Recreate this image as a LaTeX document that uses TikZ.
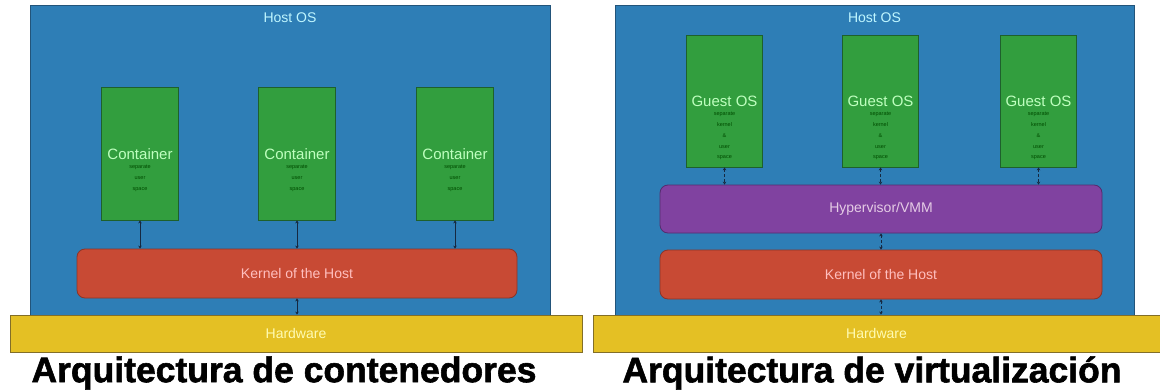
\documentclass[tikz,border=0pt]{standalone}
\usepackage{fontspec}
\setmainfont{Liberation Sans}
\newfontfamily\titlefont[BoldFeatures={FakeBold=1.6}]{Liberation Sans}
\usepackage{tikz}
\usetikzlibrary{arrows.meta, positioning, calc}

\definecolor{hostblue}{RGB}{46,126,182}
\definecolor{hostedge}{RGB}{34,84,122}
\definecolor{boxgreen}{RGB}{50,158,62}
\definecolor{greenedge}{RGB}{30,96,44}
\definecolor{kernred}{RGB}{200,74,52}
\definecolor{rededge}{RGB}{140,52,40}
\definecolor{hyppurple}{RGB}{128,66,160}
\definecolor{purpleedge}{RGB}{84,44,110}
\definecolor{hwyellow}{RGB}{228,192,36}
\definecolor{yellowedge}{RGB}{130,110,40}
\definecolor{linkdark}{RGB}{22,40,64}

\begin{document}
\begin{tikzpicture}[x=1pt, y=-1pt,
    hostos/.style={rectangle, draw=hostedge, fill=hostblue, line width=0.8pt, inner sep=0pt},
    hosttxt/.style={text=blue!15!cyan!25, font=\fontsize{14}{16}\selectfont},
    hwbar/.style={rectangle, draw=yellowedge, fill=hwyellow, line width=0.8pt, inner sep=0pt, minimum height=37},
    hwtxt/.style={text=yellow!30, font=\fontsize{14}{16}\selectfont},
    ctrbox/.style={rectangle, draw=greenedge, fill=boxgreen, line width=0.8pt, inner sep=0pt, minimum width=77, minimum height=133},
    ctrtxt/.style={text=green!25, font=\fontsize{15}{17}\selectfont, align=center, inner sep=0pt},
    subtxt/.style={text=green!30!black, font=\fontsize{5.5}{10.8}\selectfont, align=center, inner sep=0pt},
    layer/.style={rectangle, rounded corners=8pt, line width=0.8pt, inner sep=0pt, minimum width=442, minimum height=48},
    kernel/.style={layer, draw=rededge, fill=kernred, text=red!25!white},
    hyper/.style={layer, draw=purpleedge, fill=hyppurple, text=violet!20!white},
    link/.style={{Stealth[length=3pt,width=3.5pt]}-{Stealth[length=3pt,width=3.5pt]}, draw=linkdark, line width=1pt},
    title/.style={font=\titlefont\bfseries\fontsize{35.5}{40}\selectfont, text=black}
]
\useasboundingbox (0,0) rectangle (1160,391);

% ===== CONTAINERS LEFT =====
\node[hostos, minimum width=520, minimum height=310] (hostA) at (290,160) {};
\node[hosttxt, below=5pt of hostA.north] {Host OS};

% Containers
\foreach \i/\x in {1/140, 2/297, 3/455} {
    \node[ctrbox] (c\i) at (\x,153.5) {};
    \node[ctrtxt] (ct\i) at ([yshift=-0.5pt]c\i.center) {Container};
    \node[subtxt, below=5pt of ct\i] {separate\\user\\space};
}

% Kernel of the host
\node[kernel, minimum width=440, minimum height=49, font=\fontsize{14}{16}\selectfont] (kernA) at (297,273.5) {Kernel of the Host};

% Hardware
\node[hwbar, minimum width=572] (hwA) at (296,333.5) {};
\node[hwtxt] at (hwA) {Hardware};

% Links
\foreach \i in {1,2,3} {
    \draw[link] (c\i.south) -- (c\i.south |- kernA.north);
}
\draw[link] (kernA.south) -- (kernA.south |- hwA.north);

\node[title] (titleA) at (284,373) {Arquitectura de contenedores};

% ===== VIRTUALIZATION RIGHT =====
\node[hostos, minimum width=519, minimum height=310] (hostB) at (874.5,160) {};
\node[hosttxt, below=5pt of hostB.north] {Host OS};

% Guest OS boxes
\foreach \i/\x in {1/724.5, 2/880.5, 3/1038.5} {
    \node[ctrbox, minimum width=76, minimum height=132] (g\i) at (\x,101) {};
    \node[ctrtxt] (gt\i) at ([yshift=-0.5pt]g\i.center) {Guest OS};
    \node[subtxt, below=5pt of gt\i] {separate\\kernel\\\&\\user\\space};
}

% Hypervisor and kernel
\node[hyper, font=\fontsize{14}{16}\selectfont] (hyp) at (881,209) {Hypervisor/VMM};
\node[kernel, minimum height=49, font=\fontsize{14}{16}\selectfont] (kernB) at (881,274.5) {Kernel of the Host};

% Hardware
\node[hwbar, minimum width=567] (hwB) at (876.5,333.5) {};
\node[hwtxt] at (hwB) {Hardware};

% Links
\foreach \i in {1,2,3} {
    \draw[link, densely dashed] (g\i.south) -- (g\i.south |- hyp.north);
}
\draw[link, densely dashed] (hyp.south) -- (kernB.north);
\draw[link, densely dashed] (kernB.south) -- (kernB.south |- hwB.north);

\node[title] (titleB) at (872,373) {Arquitectura de virtualización};

\end{tikzpicture}
\end{document}
